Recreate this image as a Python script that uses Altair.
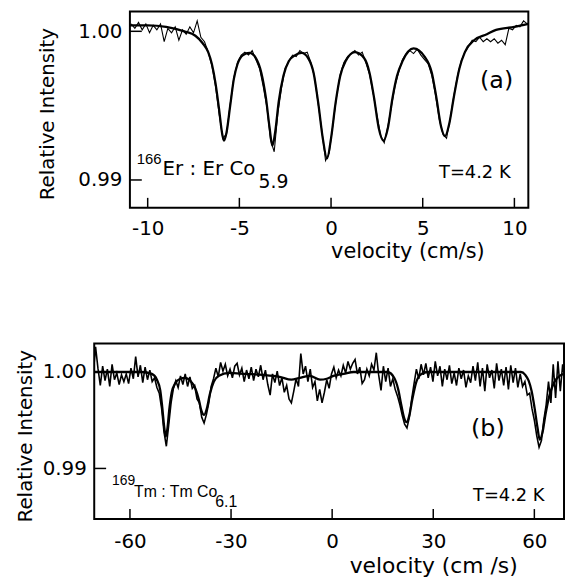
import altair as alt
import pandas as pd
import numpy as np

FONT = "DejaVu Sans"
NARROW = "Liberation Sans"

# ---------------- Panel (a): 166Er : ErCo5.9 ----------------
a_fit_v = [-10.97, -10.0, -9.0, -8.0, -7.4, -7.0, -6.7, -6.5, -6.3, -6.1, -5.95, -5.84,
           -5.7, -5.5, -5.3, -5.1, -4.8, -4.45, -4.1, -3.8, -3.55, -3.35, -3.2, -3.05,
           -2.85, -2.6, -2.3, -1.95, -1.6, -1.25, -0.95, -0.7, -0.45, -0.22, 0.0, 0.25,
           0.5, 0.8, 1.3, 1.8, 2.1, 2.35, 2.6, 2.86, 3.1, 3.35, 3.6, 3.9, 4.5, 5.1, 5.5,
           5.75, 6.0, 6.22, 6.45, 6.7, 7.0, 7.3, 7.8, 8.5, 9.0, 10.0, 10.76]
a_fit_i = [1.0004, 1.0004, 1.0003, 1.0000, 0.9997, 0.9992, 0.9986, 0.9978, 0.9965, 0.9947,
           0.9932, 0.99265, 0.9932, 0.9950, 0.9968, 0.9978, 0.9984, 0.99855, 0.9982, 0.9972,
           0.9955, 0.9935, 0.9923, 0.9932, 0.9953, 0.9970, 0.9980, 0.9984, 0.99855, 0.9982,
           0.9972, 0.9952, 0.9928, 0.99145, 0.9928, 0.9952, 0.9970, 0.9980, 0.9986, 0.9982,
           0.9972, 0.9955, 0.9935, 0.99265, 0.9935, 0.9955, 0.9970, 0.9980, 0.99885, 0.9983,
           0.9972, 0.9955, 0.9936, 0.99295, 0.9938, 0.9956, 0.9975, 0.9986, 0.9994, 0.9998,
           1.0001, 1.0003, 1.0005]

# measured spectrum, channels every 0.2 cm/s from -10.9 to 10.7
a_dat_v = np.round(np.linspace(-10.9, 10.7, 109), 2)
a_dat_i = [
    1.0005, 1.0002, 1.0006, 1.0001, 1.0005, 0.9999, 1.0004, 1.0001, 1.0005, 0.9993,
    1.0002, 0.9999, 1.0003, 0.9994, 1.0001, 0.9998, 1.0003, 0.9999, 1.0007, 0.9996,
    0.9993, 0.9986, 0.9977, 0.9963, 0.9944, 0.9928, 0.9931, 0.9951, 0.9969, 0.9979,
    0.9984, 0.9986, 0.9984, 0.9987, 0.9981, 0.9975, 0.9963, 0.9949, 0.9927, 0.9919,
    0.9945, 0.9962, 0.9975, 0.9980, 0.9984, 0.9983, 0.9987, 0.9985, 0.9986, 0.9979,
    0.9969, 0.9951, 0.9933, 0.9913, 0.9918, 0.9937, 0.9956, 0.9971, 0.9979, 0.9983,
    0.9985, 0.9987, 0.9984, 0.9986, 0.9979, 0.9971, 0.9958, 0.9944, 0.9930, 0.9925,
    0.9936, 0.9950, 0.9964, 0.9973, 0.9981, 0.9985, 0.9987, 0.9985, 0.9988, 0.9984,
    0.9981, 0.9978, 0.9970, 0.9957, 0.9941, 0.9931, 0.9928, 0.9941, 0.9957, 0.9970,
    0.9980, 0.9986, 0.9990, 0.9994, 0.9993, 0.9996, 0.9993, 0.9995, 0.9993, 0.9995,
    0.9992, 0.9994, 0.9991, 1.0002, 1.0001, 1.0004, 1.0003, 1.0007, 1.0005]

a_xticks = [-10, -5, 0, 5, 10]
a_yticks = [0.99, 1.00]

# ---------------- Panel (b): 169Tm : TmCo6.1 ----------------
b_fit_v = [-70.6, -56.5, -53.5, -52.0, -51.0, -50.4, -49.8, -49.4, -48.9, -48.3, -47.6,
           -46.6, -45.1, -43.6, -42.1, -40.6, -39.6, -38.8, -38.0, -37.2, -36.3, -35.1,
           -33.6, -30.6, -25.6, -20.6, -15.6, -12.1, -9.6, -6.6, -3.6, -1.6, 0.4, 3.4,
           6.4, 16.4, 18.4, 19.6, 20.5, 21.3, 22.1, 22.9, 23.8, 25.0, 26.5, 28.4, 56.0,
           57.3, 58.3, 59.2, 60.1, 60.9, 61.6, 62.4, 63.3, 64.5, 66.0, 67.5, 68.8]
b_fit_i = [1.0000, 1.0000, 0.9998, 0.9992, 0.9981, 0.9963, 0.9942, 0.9933, 0.9941, 0.9962,
           0.9979, 0.9988, 0.9993, 0.9994, 0.9991, 0.9983, 0.9972, 0.9960, 0.99555, 0.9962,
           0.9977, 0.9990, 0.9996, 0.9999, 0.9998, 0.9997, 0.9995, 0.9992, 0.9994, 0.9996,
           0.9992, 0.9993, 0.9996, 0.9998, 1.0000, 1.0000, 0.9994, 0.9982, 0.9966, 0.9953,
           0.9948, 0.9955, 0.9972, 0.9990, 0.9998, 1.0000, 1.0000, 0.9997, 0.9991, 0.9980,
           0.9962, 0.9943, 0.9930, 0.9937, 0.9956, 0.9976, 0.9990, 0.9996, 0.9998]

# measured spectrum, channels every 0.7 cm/s from -70.9 to 69.1
b_dat_v = np.round(np.linspace(-70.9, 69.1, 201), 2)
b_dat_i = [
    0.9998, 1.0026, 1.0004, 0.9986, 1.0006, 0.9991, 1.0003, 0.9985, 1.0008, 0.9992,
    0.9999, 0.9987, 0.9997, 0.9990, 0.9998, 0.9988, 1.0004, 0.9993, 1.0016, 0.9995,
    1.0007, 0.9989, 1.0005, 0.9992, 1.0002, 0.9990, 0.9994, 0.9984, 0.9978, 0.9962,
    0.9938, 0.9923, 0.9945, 0.9968, 0.9983, 0.9991, 0.9984, 0.9996, 0.9987, 0.9998,
    0.9985, 0.9995, 0.9983, 0.9986, 0.9972, 0.9968, 0.9953, 0.9947, 0.9956, 0.9968,
    0.9985, 0.9993, 1.0004, 0.9995, 1.0010, 1.0001, 1.0008, 0.9996, 1.0003, 0.9994,
    1.0006, 1.0009, 0.9997, 1.0004, 0.9990, 1.0002, 0.9993, 1.0005, 0.9991, 1.0003,
    0.9995, 1.0007, 0.9992, 1.0002, 0.9987, 0.9976, 0.9998, 0.9989, 1.0001, 0.9986,
    0.9994, 0.9979, 0.9986, 0.9972, 0.9968, 0.9980, 0.9993, 0.9985, 1.0019, 0.9998,
    1.0006, 0.9990, 1.0003, 0.9984, 0.9990, 0.9970, 0.9982, 0.9968, 0.9979, 0.9992,
    0.9983, 0.9998, 1.0005, 0.9994, 1.0002, 0.9996, 1.0007, 0.9999, 1.0011, 1.0003,
    1.0009, 1.0013, 0.9998, 1.0005, 0.9988, 0.9992, 1.0003, 0.9996, 1.0008, 1.0002,
    1.0020, 0.9997, 0.9981, 1.0006, 0.9990, 1.0004, 0.9985, 0.9993, 0.9982, 0.9975,
    0.9966, 0.9955, 0.9946, 0.9942, 0.9953, 0.9972, 0.9988, 1.0003, 0.9993, 1.0008,
    0.9997, 1.0009, 0.9994, 1.0005, 0.9990, 1.0011, 0.9996, 1.0006, 0.9985, 1.0003,
    0.9992, 1.0007, 0.9988, 0.9999, 0.9986, 1.0004, 0.9993, 1.0002, 0.9984, 0.9996,
    0.9989, 1.0006, 0.9991, 1.0010, 0.9985, 1.0004, 0.9980, 1.0008, 0.9994, 1.0002,
    0.9983, 1.0009, 0.9991, 1.0003, 0.9986, 1.0005, 0.9982, 1.0007, 0.9989, 1.0004,
    0.9984, 0.9998, 0.9985, 0.9990, 0.9976, 0.9978, 0.9962, 0.9950, 0.9934, 0.9922,
    0.9929, 0.9950, 0.9966, 0.9990, 0.9968, 1.0008, 0.9973, 1.0011, 0.9980, 1.0008,
    0.9990]

b_xticks = [-60, -30, 0, 30, 60]
b_yticks = [0.99, 1.00]

# annotations: (text, x, y, fontsize, align, font)
a_texts = [("166", -10.6, 0.99105, 15, "left", NARROW),
           ("Er : Er Co", -9.19, 0.99033, 20, "left", FONT),
           ("5.9", -3.95, 0.98947, 19, "left", FONT),
           ("T=4.2 K", 5.89, 0.99013, 18, "left", FONT),
           ("(a)", 9.03, 0.9962, 24, "center", FONT)]
b_texts = [("169", -65.3, 0.98825, 14, "left", NARROW),
           ("Tm : Tm Co", -58.8, 0.98705, 16, "left", NARROW),
           ("6.1", -34.7, 0.98602, 16, "left", NARROW),
           ("T=4.2 K", 41.8, 0.98664, 18, "left", FONT),
           ("(b)", 46.2, 0.99332, 24, "center", FONT)]


def panel(fit_v, fit_i, dat_v, dat_i, xdom, ydom, W, H, xticks, yticks, texts,
          xtitle, xtitle_size, xtitle_x, xtitle_y, xlab_pad, ytitle_x, ytitle_y,
          noise_w):
    xs = alt.Scale(domain=xdom, nice=False, zero=False)
    ys = alt.Scale(domain=ydom, nice=False, zero=False)
    xaxis = alt.Axis(values=xticks, labelExpr="'' + datum.value", ticks=False,
                     domain=False, grid=False, labelFont=FONT, labelFontSize=20,
                     labelColor="black", labelPadding=xlab_pad, labelFlush=False,
                     title=xtitle, titleFont=FONT, titleFontSize=xtitle_size,
                     titleFontWeight="normal", titleColor="black", titleX=xtitle_x,
                     titleY=xtitle_y, titleBaseline="alphabetic", titleAlign="center")
    yaxis = alt.Axis(values=yticks, labelExpr="format(datum.value, '.2f')", ticks=False,
                     domain=False, grid=False, labelFont=FONT, labelFontSize=20,
                     labelColor="black", labelPadding=8, labelFlush=False,
                     title="Relative Intensity", titleFont=FONT, titleFontSize=20,
                     titleFontWeight="normal", titleColor="black", titleAngle=270,
                     titleX=ytitle_x, titleY=ytitle_y, titleBaseline="alphabetic",
                     titleAlign="center")

    def X(f):
        return alt.X(f, type="quantitative", scale=xs, axis=xaxis)

    def Y(f):
        return alt.Y(f, type="quantitative", scale=ys, axis=yaxis)

    dat = pd.DataFrame({"v": dat_v, "i": dat_i})
    fit = pd.DataFrame({"v": fit_v, "i": fit_i})
    data_line = alt.Chart(dat).mark_line(color="black", strokeWidth=noise_w, clip=True,
                                         strokeJoin="miter").encode(x=X("v"), y=Y("i"))
    fit_line = alt.Chart(fit).mark_line(color="black", strokeWidth=2.3, clip=True,
                                        interpolate="monotone").encode(x=X("v"), y=Y("i"))
    yt = alt.Chart(pd.DataFrame({"v": yticks})).mark_rule(color="black", strokeWidth=1.5).encode(
        y=Y("v"), x=alt.value(0), x2=alt.value(12))
    xt = alt.Chart(pd.DataFrame({"v": xticks})).mark_rule(color="black", strokeWidth=1.5).encode(
        x=X("v"), y=alt.value(H), y2=alt.value(H - 10))
    layers = [data_line, fit_line, yt, xt]
    for t, tx, ty, fs, al, fn in texts:
        layers.append(
            alt.Chart(pd.DataFrame({"v": [tx], "i": [ty], "t": [t]})).mark_text(
                font=fn, fontSize=fs, align=al, baseline="alphabetic", color="black"
            ).encode(x=X("v"), y=Y("i"), text="t:N"))
    return alt.layer(*layers).properties(width=W, height=H)


pa = panel(a_fit_v, a_fit_i, a_dat_v, a_dat_i, [-10.97, 10.76], [0.98813, 1.00133],
           402, 198, a_xticks, a_yticks, a_texts, "velocity (cm/s)", 21, 280, 50, 11,
           -77, 103, 1.1)
pb = panel(b_fit_v, b_fit_i, b_dat_v, b_dat_i, [-70.6, 68.8], [0.98476, 1.00295],
           474, 177, b_xticks, b_yticks, b_texts, "velocity (cm /s)", 22, 342, 54, 13,
           -63, 93, 1.6)

chart = alt.vconcat(pa, pb, spacing=137, bounds="flush", center=True).properties(
    padding={"left": 7, "top": 0, "right": 0, "bottom": 0},
    background="white",
).configure_view(stroke="black", strokeWidth=2)

chart.save("out.html", embed_options={"renderer": "svg", "actions": False})
